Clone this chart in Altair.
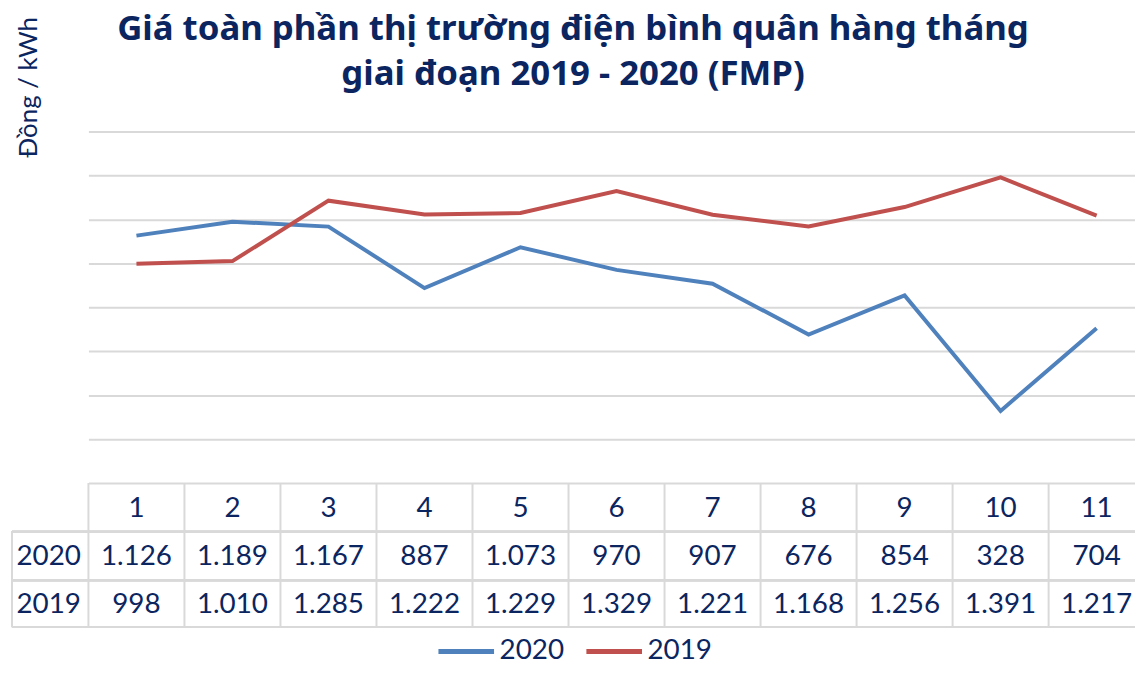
import altair as alt
import pandas as pd

months = [1, 2, 3, 4, 5, 6, 7, 8, 9, 10, 11]
v2020 = [1126, 1189, 1167, 887, 1073, 970, 907, 676, 854, 328, 704]
v2019 = [998, 1010, 1285, 1222, 1229, 1329, 1221, 1168, 1256, 1391, 1217]
series = ["2020", "2019"]
grid_values = [0, 200, 400, 600, 800, 1000, 1200, 1400, 1600]
title_lines = ["Giá toàn phần thị trường điện bình quân hàng tháng",
               "giai đoạn 2019 - 2020 (FMP)"]
y_title = "Đồng / kWh"


def fmt(v):
    return f"{v:,}".replace(",", ".")


long = pd.DataFrame({
    "month": months * 2,
    "value": v2020 + v2019,
    "series": ["2020"] * len(months) + ["2019"] * len(months),
})
long["label"] = [fmt(v) for v in long["value"]]
mdf = pd.DataFrame({"month": months})

W, H = 1054, 354
COL = 96.7
NAVY = "#0B2560"
GRID = "#D9D9D9"
FONT = "Lato"
ROW_Y = {"2020": 437, "2019": 485}

# the last column runs past the right edge of the picture, as in the original
xs = alt.Scale(domain=[0.5, 0.5 + W / COL], nice=False, zero=False)
ys = alt.Scale(domain=[0, 1600], nice=False)
cs = alt.Scale(domain=series, range=["#4F81BD", "#C0504D"])

lines = alt.Chart(long).mark_line(strokeWidth=4).encode(
    x=alt.X("month:Q", scale=xs, axis=None),
    y=alt.Y("value:Q", scale=ys, axis=alt.Axis(
        values=grid_values, grid=True, labels=False, ticks=False, domain=False,
        gridColor=GRID, gridWidth=2, title=y_title, titleFont=FONT,
        titleFontSize=26, titleFontWeight="normal", titleColor=NAVY,
        titleAngle=270, titleAlign="center", titleBaseline="alphabetic",
        titleX=-52, titleY=-45)),
    color=alt.Color("series:N", scale=cs, legend=alt.Legend(
        orient="none", legendX=350, legendY=493, direction="horizontal",
        title=None, symbolType="stroke", symbolSize=3136,
        symbolStrokeWidth=5, labelFont=FONT, labelFontSize=28,
        labelColor=NAVY, labelOffset=3, columnPadding=12)),
)

# table borders
hrules = [
    alt.Chart(mdf).mark_rule(color=GRID, strokeWidth=2).encode(
        x=alt.value(-77), x2=alt.value(W), y=alt.value(yy))
    for yy in (403, 452, 499)
]
vrules = alt.Chart(mdf).transform_calculate(edge="datum.month - 0.5").mark_rule(
    color=GRID, strokeWidth=2).encode(
    x=alt.X("edge:Q", scale=xs, axis=None), y=alt.value(H), y2=alt.value(499))
vleft = alt.Chart(mdf).mark_rule(color=GRID, strokeWidth=2).encode(
    x=alt.value(-77), y=alt.value(403), y2=alt.value(499))

text_kw = dict(font=FONT, fontSize=28, color=NAVY, align="center",
               baseline="alphabetic")

header = alt.Chart(mdf).mark_text(**text_kw).encode(
    x=alt.X("month:Q", scale=xs, axis=None), y=alt.value(388),
    text="month:N")

cells = []
for s in series:
    cells.append(
        alt.Chart(long).transform_filter(alt.datum.series == s)
        .mark_text(**text_kw).encode(
            x=alt.X("month:Q", scale=xs, axis=None), y=alt.value(ROW_Y[s]),
            text="label:N"))
    cells.append(
        alt.Chart(pd.DataFrame({"series": [s]})).mark_text(**text_kw).encode(
            x=alt.value(-40), y=alt.value(ROW_Y[s]), text="series:N"))

chart = alt.layer(
    *hrules, vrules, vleft, header, *cells, lines
).properties(
    width=W, height=H,
    title=alt.TitleParams(
        text=title_lines, font="Noto Sans", fontSize=35, fontWeight="bold",
        color=NAVY, anchor="middle", dx=-39, offset=-76, lineHeight=45),
    autosize=alt.AutoSizeParams(type="none"),
    padding={"left": 81, "top": 122, "right": 0, "bottom": 186},
).configure_view(stroke=None)

chart.save("out.html", embed_options={"renderer": "svg", "actions": False})
